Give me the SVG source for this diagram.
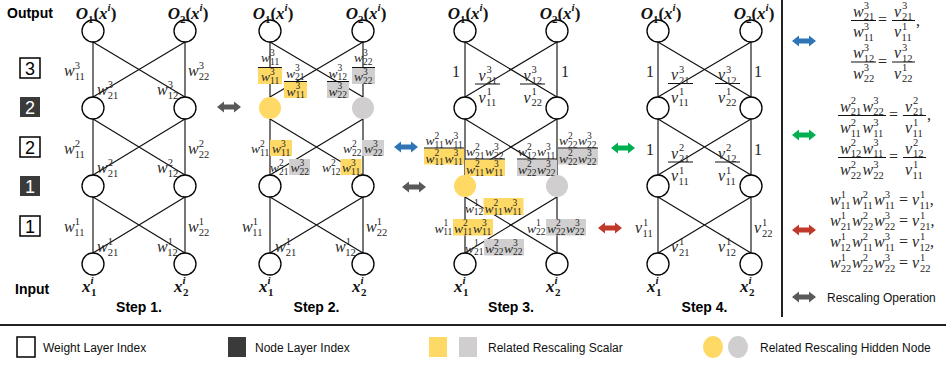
<svg xmlns="http://www.w3.org/2000/svg" width="946" height="367" viewBox="0 0 946 367">
<style>
.m{font-family:"Liberation Serif","DejaVu Serif",serif;font-style:italic;font-size:16px;fill:#262626}
.t{font-size:13.5px}
.s{font-style:normal;font-size:10.5px}
.t .s{font-size:9.5px}
.one{font-family:"Liberation Serif","DejaVu Serif",serif;font-size:16px;fill:#262626}
.o{font-family:"Liberation Serif","DejaVu Serif",serif;font-weight:bold;font-style:italic;font-size:17px;fill:#111}
.os{font-size:11px}
.u{font-style:normal}
.lbl{font-family:"Liberation Sans",Arial,sans-serif;font-weight:bold;font-size:14px;fill:#000}
.leg{font-family:"Liberation Sans",Arial,sans-serif;font-size:12px;fill:#111}
.ix{font-family:"Liberation Sans",Arial,sans-serif;font-size:18px;text-anchor:middle}
.node{fill:#fff;stroke:#000;stroke-width:1.3}
.v{stroke:#555;stroke-width:1.6;fill:none}
.c{stroke:#111;stroke-width:1.2;fill:none}
.bar{stroke:#111;stroke-width:1}
.hy{fill:#FFD966}
.hg{fill:#D0CECE}
.bw{fill:#fff;stroke:#000;stroke-width:1.5}
.bd{fill:#3a3a3a}
</style>
<defs>
<path id="dbl" d="M-12,0 L-5,-5.5 L-5,-2.5 L5,-2.5 L5,-5.5 L12,0 L5,5.5 L5,2.5 L-5,2.5 L-5,5.5 Z"/>
</defs>

<!-- side labels -->
<text class="lbl" x="7" y="18">Output</text>
<text class="lbl" x="15" y="294">Input</text>
<g id="idx-w3"><rect class="bw" x="20" y="58" width="20" height="20"/><text class="ix" x="30" y="74.5">3</text></g>
<g id="idx-n2"><rect class="bd" x="20" y="97" width="20" height="20"/><text class="ix" x="30" y="113.5" fill="#fff">2</text></g>
<g id="idx-w2"><rect class="bw" x="20" y="137" width="20" height="20"/><text class="ix" x="30" y="153.5">2</text></g>
<g id="idx-n1"><rect class="bd" x="20" y="176" width="20" height="20"/><text class="ix" x="30" y="192.5" fill="#fff">1</text></g>
<g id="idx-w1"><rect class="bw" x="20" y="216" width="20" height="20"/><text class="ix" x="30" y="232.5">1</text></g>

<!-- connectors -->
<g id="connectors">
<path class="v" d="M93,42V97M185,42V97M93,119V175M185,119V175M93,197V253M185,197V253"/>
<path class="c" d="M93,42L185,97M185,42L93,97M93,119L185,175M185,119L93,175M93,197L185,253M185,197L93,253"/>
<path class="v" d="M270,42V97M363,42V97M270,119V175M363,119V175M270,197V253M363,197V253"/>
<path class="c" d="M270,42L363,97M363,42L270,97M270,119L363,175M363,119L270,175M270,197L363,253M363,197L270,253"/>
<path class="v" d="M465,42V97M557,42V97M465,119V175M557,119V175M465,197V253M557,197V253"/>
<path class="c" d="M465,42L557,97M557,42L465,97M465,119L557,175M557,119L465,175M465,197L557,253M557,197L465,253"/>
<path class="v" d="M658,42V97M751,42V97M658,119V175M751,119V175M658,197V253M751,197V253"/>
<path class="c" d="M658,42L751,97M751,42L658,97M658,119L751,175M751,119L658,175M658,197L751,253M751,197L658,253"/>
</g>

<!-- Step 1 weights -->
<g id="s1-weights">
<text class="m" x="64" y="76">w<tspan class="s" dy="-7.5">3</tspan><tspan class="s" dx="-5.25" dy="11">11</tspan></text>
<text class="m" x="188" y="76">w<tspan class="s" dy="-7.5">3</tspan><tspan class="s" dx="-5.25" dy="11">22</tspan></text>
<text class="m" x="97" y="95">w<tspan class="s" dy="-7.5">3</tspan><tspan class="s" dx="-5.25" dy="11">21</tspan></text>
<text class="m" x="157" y="95">w<tspan class="s" dy="-7.5">3</tspan><tspan class="s" dx="-5.25" dy="11">12</tspan></text>
<text class="m" x="64" y="154">w<tspan class="s" dy="-7.5">2</tspan><tspan class="s" dx="-5.25" dy="11">11</tspan></text>
<text class="m" x="188" y="154">w<tspan class="s" dy="-7.5">2</tspan><tspan class="s" dx="-5.25" dy="11">22</tspan></text>
<text class="m" x="97" y="173">w<tspan class="s" dy="-7.5">2</tspan><tspan class="s" dx="-5.25" dy="11">21</tspan></text>
<text class="m" x="157" y="173">w<tspan class="s" dy="-7.5">2</tspan><tspan class="s" dx="-5.25" dy="11">12</tspan></text>
<text class="m" x="64" y="232">w<tspan class="s" dy="-7.5">1</tspan><tspan class="s" dx="-5.25" dy="11">11</tspan></text>
<text class="m" x="188" y="232">w<tspan class="s" dy="-7.5">1</tspan><tspan class="s" dx="-5.25" dy="11">22</tspan></text>
<text class="m" x="97" y="252">w<tspan class="s" dy="-7.5">1</tspan><tspan class="s" dx="-5.25" dy="11">21</tspan></text>
<text class="m" x="157" y="252">w<tspan class="s" dy="-7.5">1</tspan><tspan class="s" dx="-5.25" dy="11">12</tspan></text>
</g>

<!-- Step 2 weights -->
<g id="s2-weights">
<rect class="hy" x="258" y="68" width="24" height="16"/>
<line class="bar" x1="258" y1="67.5" x2="282" y2="67.5"/>
<text class="m t" x="261" y="62">w<tspan class="s" dy="-6.5">3</tspan><tspan class="s" dx="-4.75" dy="9">11</tspan></text>
<text class="m t" x="261" y="81">w<tspan class="s" dy="-6.5">3</tspan><tspan class="s" dx="-4.75" dy="9">11</tspan></text>
<rect class="hy" x="284" y="82" width="23" height="16"/>
<line class="bar" x1="284" y1="81.5" x2="307" y2="81.5"/>
<text class="m t" x="286" y="77.5">w<tspan class="s" dy="-6.5">3</tspan><tspan class="s" dx="-4.75" dy="9">21</tspan></text>
<text class="m t" x="286.5" y="95.5">w<tspan class="s" dy="-6.5">3</tspan><tspan class="s" dx="-4.75" dy="9">11</tspan></text>
<rect class="hg" x="327" y="82" width="22" height="16"/>
<line class="bar" x1="327" y1="81.5" x2="349" y2="81.5"/>
<text class="m t" x="328.5" y="77.5">w<tspan class="s" dy="-6.5">3</tspan><tspan class="s" dx="-4.75" dy="9">12</tspan></text>
<text class="m t" x="328.5" y="95.5">w<tspan class="s" dy="-6.5">3</tspan><tspan class="s" dx="-4.75" dy="9">22</tspan></text>
<rect class="hg" x="352" y="68" width="23" height="16"/>
<line class="bar" x1="352" y1="67.5" x2="375" y2="67.5"/>
<text class="m t" x="354" y="62">w<tspan class="s" dy="-6.5">3</tspan><tspan class="s" dx="-4.75" dy="9">22</tspan></text>
<text class="m t" x="354" y="81">w<tspan class="s" dy="-6.5">3</tspan><tspan class="s" dx="-4.75" dy="9">22</tspan></text>

<text class="m t" x="251" y="153">w<tspan class="s" dy="-6.5">2</tspan><tspan class="s" dx="-4.75" dy="9">11</tspan></text>
<rect class="hy" x="270" y="140" width="22" height="16"/>
<text class="m t" x="272" y="153">w<tspan class="s" dy="-6.5">3</tspan><tspan class="s" dx="-4.75" dy="9">11</tspan></text>
<text class="m t" x="343" y="153">w<tspan class="s" dy="-6.5">2</tspan><tspan class="s" dx="-4.75" dy="9">22</tspan></text>
<rect class="hg" x="362" y="140" width="22" height="16"/>
<text class="m t" x="364" y="153">w<tspan class="s" dy="-6.5">3</tspan><tspan class="s" dx="-4.75" dy="9">22</tspan></text>
<text class="m t" x="270" y="172">w<tspan class="s" dy="-6.5">2</tspan><tspan class="s" dx="-4.75" dy="9">21</tspan></text>
<rect class="hg" x="289" y="159" width="21" height="16"/>
<text class="m t" x="290.5" y="172">w<tspan class="s" dy="-6.5">3</tspan><tspan class="s" dx="-4.75" dy="9">22</tspan></text>
<text class="m t" x="322" y="172">w<tspan class="s" dy="-6.5">2</tspan><tspan class="s" dx="-4.75" dy="9">12</tspan></text>
<rect class="hy" x="340.5" y="159" width="21" height="16"/>
<text class="m t" x="342" y="172">w<tspan class="s" dy="-6.5">3</tspan><tspan class="s" dx="-4.75" dy="9">11</tspan></text>

<text class="m" x="242" y="232">w<tspan class="s" dy="-7.5">1</tspan><tspan class="s" dx="-5.25" dy="11">11</tspan></text>
<text class="m" x="366" y="232">w<tspan class="s" dy="-7.5">1</tspan><tspan class="s" dx="-5.25" dy="11">22</tspan></text>
<text class="m" x="275" y="252">w<tspan class="s" dy="-7.5">1</tspan><tspan class="s" dx="-5.25" dy="11">21</tspan></text>
<text class="m" x="335" y="252">w<tspan class="s" dy="-7.5">1</tspan><tspan class="s" dx="-5.25" dy="11">12</tspan></text>
</g>

<!-- Step 3 weights -->
<g id="s3-weights">
<text class="one" x="452" y="77">1</text>
<text class="one" x="561" y="77">1</text>
<line class="bar" x1="475" y1="84" x2="500" y2="84"/>
<text class="m" x="478.5" y="80.5">v<tspan class="s" dx="0.8" dy="-7.5">3</tspan><tspan class="s" dx="-5.25" dy="11">21</tspan></text>
<text class="m" x="478.5" y="102.5">v<tspan class="s" dx="0.8" dy="-7.5">1</tspan><tspan class="s" dx="-5.25" dy="11">11</tspan></text>
<line class="bar" x1="520" y1="84" x2="545" y2="84"/>
<text class="m" x="523.5" y="80.5">v<tspan class="s" dx="0.8" dy="-7.5">3</tspan><tspan class="s" dx="-5.25" dy="11">12</tspan></text>
<text class="m" x="523.5" y="102.5">v<tspan class="s" dx="0.8" dy="-7.5">1</tspan><tspan class="s" dx="-5.25" dy="11">22</tspan></text>

<rect class="hy" x="424" y="148.5" width="40" height="16"/>
<line class="bar" x1="424" y1="148" x2="464" y2="148"/>
<text class="m t" x="425.5" y="145">w<tspan class="s" dy="-6.5">2</tspan><tspan class="s" dx="-4.75" dy="9">11</tspan></text>
<text class="m t" x="444.5" y="145">w<tspan class="s" dy="-6.5">3</tspan><tspan class="s" dx="-4.75" dy="9">11</tspan></text>
<text class="m t" x="425.5" y="162.5">w<tspan class="s" dy="-6.5">2</tspan><tspan class="s" dx="-4.75" dy="9">11</tspan></text>
<text class="m t" x="444.5" y="162.5">w<tspan class="s" dy="-6.5">3</tspan><tspan class="s" dx="-4.75" dy="9">11</tspan></text>

<rect class="hy" x="465" y="159.5" width="40" height="16.5"/>
<line class="bar" x1="465" y1="159" x2="505" y2="159"/>
<text class="m t" x="466" y="156">w<tspan class="s" dy="-6.5">2</tspan><tspan class="s" dx="-4.75" dy="9">21</tspan></text>
<text class="m t" x="485" y="156">w<tspan class="s" dy="-6.5">3</tspan><tspan class="s" dx="-4.75" dy="9">22</tspan></text>
<text class="m t" x="466" y="173.5">w<tspan class="s" dy="-6.5">2</tspan><tspan class="s" dx="-4.75" dy="9">11</tspan></text>
<text class="m t" x="485" y="173.5">w<tspan class="s" dy="-6.5">3</tspan><tspan class="s" dx="-4.75" dy="9">11</tspan></text>

<rect class="hg" x="517" y="159.5" width="40" height="16.5"/>
<line class="bar" x1="517" y1="159" x2="557" y2="159"/>
<text class="m t" x="518" y="156">w<tspan class="s" dy="-6.5">2</tspan><tspan class="s" dx="-4.75" dy="9">12</tspan></text>
<text class="m t" x="537" y="156">w<tspan class="s" dy="-6.5">3</tspan><tspan class="s" dx="-4.75" dy="9">11</tspan></text>
<text class="m t" x="518" y="173.5">w<tspan class="s" dy="-6.5">2</tspan><tspan class="s" dx="-4.75" dy="9">22</tspan></text>
<text class="m t" x="537" y="173.5">w<tspan class="s" dy="-6.5">3</tspan><tspan class="s" dx="-4.75" dy="9">22</tspan></text>

<rect class="hg" x="558" y="148.5" width="40" height="16"/>
<line class="bar" x1="558" y1="148" x2="598" y2="148"/>
<text class="m t" x="559" y="145">w<tspan class="s" dy="-6.5">2</tspan><tspan class="s" dx="-4.75" dy="9">22</tspan></text>
<text class="m t" x="578" y="145">w<tspan class="s" dy="-6.5">3</tspan><tspan class="s" dx="-4.75" dy="9">22</tspan></text>
<text class="m t" x="559" y="162.5">w<tspan class="s" dy="-6.5">2</tspan><tspan class="s" dx="-4.75" dy="9">22</tspan></text>
<text class="m t" x="578" y="162.5">w<tspan class="s" dy="-6.5">3</tspan><tspan class="s" dx="-4.75" dy="9">22</tspan></text>

<text class="m t" x="465" y="212.5">w<tspan class="s" dy="-6.5">1</tspan><tspan class="s" dx="-4.75" dy="9">12</tspan></text>
<rect class="hy" x="483.5" y="198" width="40" height="17"/>
<text class="m t" x="484.5" y="212.5">w<tspan class="s" dy="-6.5">2</tspan><tspan class="s" dx="-4.75" dy="9">11</tspan></text>
<text class="m t" x="503.5" y="212.5">w<tspan class="s" dy="-6.5">3</tspan><tspan class="s" dx="-4.75" dy="9">11</tspan></text>

<text class="m t" x="434.5" y="232.5">w<tspan class="s" dy="-6.5">1</tspan><tspan class="s" dx="-4.75" dy="9">11</tspan></text>
<rect class="hy" x="453" y="219" width="40" height="16.5"/>
<text class="m t" x="454" y="232.5">w<tspan class="s" dy="-6.5">2</tspan><tspan class="s" dx="-4.75" dy="9">11</tspan></text>
<text class="m t" x="473" y="232.5">w<tspan class="s" dy="-6.5">3</tspan><tspan class="s" dx="-4.75" dy="9">11</tspan></text>

<text class="m t" x="527" y="232.5">w<tspan class="s" dy="-6.5">1</tspan><tspan class="s" dx="-4.75" dy="9">22</tspan></text>
<rect class="hg" x="546" y="219" width="40" height="16.5"/>
<text class="m t" x="547" y="232.5">w<tspan class="s" dy="-6.5">2</tspan><tspan class="s" dx="-4.75" dy="9">22</tspan></text>
<text class="m t" x="566" y="232.5">w<tspan class="s" dy="-6.5">3</tspan><tspan class="s" dx="-4.75" dy="9">22</tspan></text>

<text class="m t" x="465" y="252.5">w<tspan class="s" dy="-6.5">1</tspan><tspan class="s" dx="-4.75" dy="9">21</tspan></text>
<rect class="hg" x="484" y="239" width="40" height="16.5"/>
<text class="m t" x="485" y="252.5">w<tspan class="s" dy="-6.5">2</tspan><tspan class="s" dx="-4.75" dy="9">22</tspan></text>
<text class="m t" x="504" y="252.5">w<tspan class="s" dy="-6.5">3</tspan><tspan class="s" dx="-4.75" dy="9">22</tspan></text>
</g>

<!-- Step 4 weights -->
<g id="s4-weights">
<text class="one" x="646" y="77">1</text>
<text class="one" x="754" y="77">1</text>
<line class="bar" x1="668" y1="83.5" x2="693" y2="83.5"/>
<text class="m" x="671" y="80">v<tspan class="s" dx="0.8" dy="-7.5">3</tspan><tspan class="s" dx="-5.25" dy="11">21</tspan></text>
<text class="m" x="671" y="102.5">v<tspan class="s" dx="0.8" dy="-7.5">1</tspan><tspan class="s" dx="-5.25" dy="11">11</tspan></text>
<line class="bar" x1="715" y1="83.5" x2="740" y2="83.5"/>
<text class="m" x="718" y="80">v<tspan class="s" dx="0.8" dy="-7.5">3</tspan><tspan class="s" dx="-5.25" dy="11">12</tspan></text>
<text class="m" x="718" y="102.5">v<tspan class="s" dx="0.8" dy="-7.5">1</tspan><tspan class="s" dx="-5.25" dy="11">22</tspan></text>

<text class="one" x="646" y="155">1</text>
<text class="one" x="754" y="155">1</text>
<line class="bar" x1="668" y1="162" x2="693" y2="162"/>
<text class="m" x="671" y="158.5">v<tspan class="s" dx="0.8" dy="-7.5">2</tspan><tspan class="s" dx="-5.25" dy="11">21</tspan></text>
<text class="m" x="671" y="181">v<tspan class="s" dx="0.8" dy="-7.5">1</tspan><tspan class="s" dx="-5.25" dy="11">11</tspan></text>
<line class="bar" x1="715" y1="162" x2="740" y2="162"/>
<text class="m" x="718" y="158.5">v<tspan class="s" dx="0.8" dy="-7.5">2</tspan><tspan class="s" dx="-5.25" dy="11">12</tspan></text>
<text class="m" x="718" y="181">v<tspan class="s" dx="0.8" dy="-7.5">1</tspan><tspan class="s" dx="-5.25" dy="11">11</tspan></text>

<text class="m" x="635" y="233">v<tspan class="s" dx="0.8" dy="-7.5">1</tspan><tspan class="s" dx="-5.25" dy="11">11</tspan></text>
<text class="m" x="754" y="233">v<tspan class="s" dx="0.8" dy="-7.5">1</tspan><tspan class="s" dx="-5.25" dy="11">22</tspan></text>
<text class="m" x="671" y="252">v<tspan class="s" dx="0.8" dy="-7.5">1</tspan><tspan class="s" dx="-5.25" dy="11">21</tspan></text>
<text class="m" x="718" y="252">v<tspan class="s" dx="0.8" dy="-7.5">1</tspan><tspan class="s" dx="-5.25" dy="11">12</tspan></text>
</g>

<!-- Nodes: Step 1 -->
<g id="s1-o1"><circle class="node" cx="93" cy="31" r="11"/><text class="o" x="96" y="19" text-anchor="middle">O<tspan class="os u" dy="4">1</tspan><tspan class="u" dy="-4">(</tspan>x<tspan class="os" dy="-8">i</tspan><tspan class="u" dy="8">)</tspan></text></g>
<g id="s1-o2"><circle class="node" cx="185" cy="31" r="11"/><text class="o" x="188" y="19" text-anchor="middle">O<tspan class="os u" dy="4">2</tspan><tspan class="u" dy="-4">(</tspan>x<tspan class="os" dy="-8">i</tspan><tspan class="u" dy="8">)</tspan></text></g>
<g id="s1-h21"><circle class="node" cx="93" cy="108" r="11"/></g>
<g id="s1-h22"><circle class="node" cx="185" cy="108" r="11"/></g>
<g id="s1-h11"><circle class="node" cx="93" cy="186" r="11"/></g>
<g id="s1-h12"><circle class="node" cx="185" cy="186" r="11"/></g>
<g id="s1-x1"><circle class="node" cx="93" cy="264" r="11"/><text class="o" x="82" y="292">x<tspan class="os" dy="-8">i</tspan><tspan class="os u" x="91" dy="12">1</tspan></text></g>
<g id="s1-x2"><circle class="node" cx="185" cy="264" r="11"/><text class="o" x="174" y="292">x<tspan class="os" dy="-8">i</tspan><tspan class="os u" x="183" dy="12">2</tspan></text></g>

<!-- Nodes: Step 2 -->
<g id="s2-o1"><circle class="node" cx="270" cy="31" r="11"/><text class="o" x="273" y="19" text-anchor="middle">O<tspan class="os u" dy="4">1</tspan><tspan class="u" dy="-4">(</tspan>x<tspan class="os" dy="-8">i</tspan><tspan class="u" dy="8">)</tspan></text></g>
<g id="s2-o2"><circle class="node" cx="363" cy="31" r="11"/><text class="o" x="366" y="19" text-anchor="middle">O<tspan class="os u" dy="4">2</tspan><tspan class="u" dy="-4">(</tspan>x<tspan class="os" dy="-8">i</tspan><tspan class="u" dy="8">)</tspan></text></g>
<g id="s2-h21"><circle class="hy" cx="270" cy="108" r="11"/></g>
<g id="s2-h22"><circle class="hg" cx="363" cy="108" r="11"/></g>
<g id="s2-h11"><circle class="node" cx="270" cy="186" r="11"/></g>
<g id="s2-h12"><circle class="node" cx="363" cy="186" r="11"/></g>
<g id="s2-x1"><circle class="node" cx="270" cy="264" r="11"/><text class="o" x="259" y="292">x<tspan class="os" dy="-8">i</tspan><tspan class="os u" x="268" dy="12">1</tspan></text></g>
<g id="s2-x2"><circle class="node" cx="363" cy="264" r="11"/><text class="o" x="352" y="292">x<tspan class="os" dy="-8">i</tspan><tspan class="os u" x="361" dy="12">2</tspan></text></g>

<!-- Nodes: Step 3 -->
<g id="s3-o1"><circle class="node" cx="465" cy="31" r="11"/><text class="o" x="468" y="19" text-anchor="middle">O<tspan class="os u" dy="4">1</tspan><tspan class="u" dy="-4">(</tspan>x<tspan class="os" dy="-8">i</tspan><tspan class="u" dy="8">)</tspan></text></g>
<g id="s3-o2"><circle class="node" cx="557" cy="31" r="11"/><text class="o" x="560" y="19" text-anchor="middle">O<tspan class="os u" dy="4">2</tspan><tspan class="u" dy="-4">(</tspan>x<tspan class="os" dy="-8">i</tspan><tspan class="u" dy="8">)</tspan></text></g>
<g id="s3-h21"><circle class="node" cx="465" cy="108" r="11"/></g>
<g id="s3-h22"><circle class="node" cx="557" cy="108" r="11"/></g>
<g id="s3-h11"><circle class="hy" cx="465" cy="186" r="11"/></g>
<g id="s3-h12"><circle class="hg" cx="557" cy="186" r="11"/></g>
<g id="s3-x1"><circle class="node" cx="465" cy="264" r="11"/><text class="o" x="454" y="292">x<tspan class="os" dy="-8">i</tspan><tspan class="os u" x="463" dy="12">1</tspan></text></g>
<g id="s3-x2"><circle class="node" cx="557" cy="264" r="11"/><text class="o" x="546" y="292">x<tspan class="os" dy="-8">i</tspan><tspan class="os u" x="555" dy="12">2</tspan></text></g>

<!-- Nodes: Step 4 -->
<g id="s4-o1"><circle class="node" cx="658" cy="31" r="11"/><text class="o" x="661" y="19" text-anchor="middle">O<tspan class="os u" dy="4">1</tspan><tspan class="u" dy="-4">(</tspan>x<tspan class="os" dy="-8">i</tspan><tspan class="u" dy="8">)</tspan></text></g>
<g id="s4-o2"><circle class="node" cx="751" cy="31" r="11"/><text class="o" x="754" y="19" text-anchor="middle">O<tspan class="os u" dy="4">2</tspan><tspan class="u" dy="-4">(</tspan>x<tspan class="os" dy="-8">i</tspan><tspan class="u" dy="8">)</tspan></text></g>
<g id="s4-h21"><circle class="node" cx="658" cy="108" r="11"/></g>
<g id="s4-h22"><circle class="node" cx="751" cy="108" r="11"/></g>
<g id="s4-h11"><circle class="node" cx="658" cy="186" r="11"/></g>
<g id="s4-h12"><circle class="node" cx="751" cy="186" r="11"/></g>
<g id="s4-x1"><circle class="node" cx="658" cy="264" r="11"/><text class="o" x="647" y="292">x<tspan class="os" dy="-8">i</tspan><tspan class="os u" x="656" dy="12">1</tspan></text></g>
<g id="s4-x2"><circle class="node" cx="751" cy="264" r="11"/><text class="o" x="740" y="292">x<tspan class="os" dy="-8">i</tspan><tspan class="os u" x="749" dy="12">2</tspan></text></g>

<!-- step captions -->
<text class="lbl" x="139" y="312" text-anchor="middle">Step 1.</text>
<text class="lbl" x="316.5" y="312" text-anchor="middle">Step 2.</text>
<text class="lbl" x="511" y="312" text-anchor="middle">Step 3.</text>
<text class="lbl" x="704.5" y="312" text-anchor="middle">Step 4.</text>

<!-- arrows between steps -->
<use href="#dbl" x="229" y="107" fill="#595959"/>
<use href="#dbl" x="406" y="147" fill="#2E75B6"/>
<use href="#dbl" x="414" y="187" fill="#595959"/>
<use href="#dbl" x="623" y="148" fill="#00B050"/>
<use href="#dbl" x="610" y="228" fill="#C0392B"/>

<!-- separators -->
<line x1="782" y1="0" x2="782" y2="317" stroke="#222" stroke-width="2"/>
<line x1="0" y1="325" x2="946" y2="325" stroke="#222" stroke-width="2"/>

<!-- right panel -->
<g id="eq-blue">
<use href="#dbl" x="804" y="41" fill="#2E75B6"/>
<line class="bar" x1="851" y1="20.5" x2="876" y2="20.5"/>
<text class="m" x="853" y="16.5">w<tspan class="s" dy="-7.5">3</tspan><tspan class="s" dx="-5.25" dy="11">21</tspan></text>
<text class="m" x="853" y="37">w<tspan class="s" dy="-7.5">3</tspan><tspan class="s" dx="-5.25" dy="11">11</tspan></text>
<text class="one" x="878" y="25">=</text>
<line class="bar" x1="892" y1="20.5" x2="915" y2="20.5"/>
<text class="m" x="894" y="16.5">v<tspan class="s" dx="0.8" dy="-7.5">3</tspan><tspan class="s" dx="-5.25" dy="11">21</tspan></text>
<text class="m" x="894" y="37">v<tspan class="s" dx="0.8" dy="-7.5">1</tspan><tspan class="s" dx="-5.25" dy="11">11</tspan></text>
<text class="one" x="916" y="25.5">,</text>
<line class="bar" x1="851" y1="62" x2="876" y2="62"/>
<text class="m" x="853" y="58">w<tspan class="s" dy="-7.5">3</tspan><tspan class="s" dx="-5.25" dy="11">12</tspan></text>
<text class="m" x="853" y="78.5">w<tspan class="s" dy="-7.5">3</tspan><tspan class="s" dx="-5.25" dy="11">22</tspan></text>
<text class="one" x="878" y="66.5">=</text>
<line class="bar" x1="892" y1="62" x2="915" y2="62"/>
<text class="m" x="894" y="58">v<tspan class="s" dx="0.8" dy="-7.5">3</tspan><tspan class="s" dx="-5.25" dy="11">12</tspan></text>
<text class="m" x="894" y="78.5">v<tspan class="s" dx="0.8" dy="-7.5">1</tspan><tspan class="s" dx="-5.25" dy="11">22</tspan></text>
</g>

<g id="eq-green">
<use href="#dbl" x="804" y="135" fill="#00B050"/>
<line class="bar" x1="838" y1="115.5" x2="886" y2="115.5"/>
<text class="m" x="840" y="111.5">w<tspan class="s" dy="-7.5">2</tspan><tspan class="s" dx="-5.25" dy="11">21</tspan></text>
<text class="m" x="862.5" y="111.5">w<tspan class="s" dy="-7.5">3</tspan><tspan class="s" dx="-5.25" dy="11">22</tspan></text>
<text class="m" x="840" y="133">w<tspan class="s" dy="-7.5">2</tspan><tspan class="s" dx="-5.25" dy="11">11</tspan></text>
<text class="m" x="862.5" y="133">w<tspan class="s" dy="-7.5">3</tspan><tspan class="s" dx="-5.25" dy="11">11</tspan></text>
<text class="one" x="889" y="120">=</text>
<line class="bar" x1="903" y1="115.5" x2="926" y2="115.5"/>
<text class="m" x="905" y="111.5">v<tspan class="s" dx="0.8" dy="-7.5">2</tspan><tspan class="s" dx="-5.25" dy="11">21</tspan></text>
<text class="m" x="905" y="133">v<tspan class="s" dx="0.8" dy="-7.5">1</tspan><tspan class="s" dx="-5.25" dy="11">11</tspan></text>
<text class="one" x="927" y="120">,</text>
<line class="bar" x1="838" y1="157.5" x2="886" y2="157.5"/>
<text class="m" x="840" y="153.5">w<tspan class="s" dy="-7.5">2</tspan><tspan class="s" dx="-5.25" dy="11">12</tspan></text>
<text class="m" x="862.5" y="153.5">w<tspan class="s" dy="-7.5">3</tspan><tspan class="s" dx="-5.25" dy="11">11</tspan></text>
<text class="m" x="840" y="175">w<tspan class="s" dy="-7.5">2</tspan><tspan class="s" dx="-5.25" dy="11">22</tspan></text>
<text class="m" x="862.5" y="175">w<tspan class="s" dy="-7.5">3</tspan><tspan class="s" dx="-5.25" dy="11">22</tspan></text>
<text class="one" x="889" y="162">=</text>
<line class="bar" x1="903" y1="157.5" x2="926" y2="157.5"/>
<text class="m" x="905" y="153.5">v<tspan class="s" dx="0.8" dy="-7.5">2</tspan><tspan class="s" dx="-5.25" dy="11">12</tspan></text>
<text class="m" x="905" y="175">v<tspan class="s" dx="0.8" dy="-7.5">1</tspan><tspan class="s" dx="-5.25" dy="11">11</tspan></text>
</g>

<g id="eq-red">
<use href="#dbl" x="804" y="230" fill="#C0392B"/>
<text class="m" x="830" y="205">w<tspan class="s" dy="-7.5">1</tspan><tspan class="s" dx="-5.25" dy="11">11</tspan></text>
<text class="m" x="852" y="205">w<tspan class="s" dy="-7.5">2</tspan><tspan class="s" dx="-5.25" dy="11">11</tspan></text>
<text class="m" x="874" y="205">w<tspan class="s" dy="-7.5">3</tspan><tspan class="s" dx="-5.25" dy="11">11</tspan></text>
<text class="one" x="899" y="205">=</text>
<text class="m" x="912" y="205">v<tspan class="s" dx="0.8" dy="-7.5">1</tspan><tspan class="s" dx="-5.25" dy="11">11</tspan><tspan class="u" dy="-3.5">,</tspan></text>
<text class="m" x="830" y="226">w<tspan class="s" dy="-7.5">1</tspan><tspan class="s" dx="-5.25" dy="11">21</tspan></text>
<text class="m" x="852" y="226">w<tspan class="s" dy="-7.5">2</tspan><tspan class="s" dx="-5.25" dy="11">22</tspan></text>
<text class="m" x="874" y="226">w<tspan class="s" dy="-7.5">3</tspan><tspan class="s" dx="-5.25" dy="11">22</tspan></text>
<text class="one" x="899" y="226">=</text>
<text class="m" x="912" y="226">v<tspan class="s" dx="0.8" dy="-7.5">1</tspan><tspan class="s" dx="-5.25" dy="11">21</tspan><tspan class="u" dy="-3.5">,</tspan></text>
<text class="m" x="830" y="247">w<tspan class="s" dy="-7.5">1</tspan><tspan class="s" dx="-5.25" dy="11">12</tspan></text>
<text class="m" x="852" y="247">w<tspan class="s" dy="-7.5">2</tspan><tspan class="s" dx="-5.25" dy="11">11</tspan></text>
<text class="m" x="874" y="247">w<tspan class="s" dy="-7.5">3</tspan><tspan class="s" dx="-5.25" dy="11">11</tspan></text>
<text class="one" x="899" y="247">=</text>
<text class="m" x="912" y="247">v<tspan class="s" dx="0.8" dy="-7.5">1</tspan><tspan class="s" dx="-5.25" dy="11">12</tspan><tspan class="u" dy="-3.5">,</tspan></text>
<text class="m" x="830" y="268">w<tspan class="s" dy="-7.5">1</tspan><tspan class="s" dx="-5.25" dy="11">22</tspan></text>
<text class="m" x="852" y="268">w<tspan class="s" dy="-7.5">2</tspan><tspan class="s" dx="-5.25" dy="11">22</tspan></text>
<text class="m" x="874" y="268">w<tspan class="s" dy="-7.5">3</tspan><tspan class="s" dx="-5.25" dy="11">22</tspan></text>
<text class="one" x="899" y="268">=</text>
<text class="m" x="912" y="268">v<tspan class="s" dx="0.8" dy="-7.5">1</tspan><tspan class="s" dx="-5.25" dy="11">22</tspan></text>
</g>

<g id="key-rescale">
<use href="#dbl" x="804" y="297" fill="#595959"/>
<text class="leg" x="827" y="302">Rescaling Operation</text>
</g>

<!-- legend -->
<g id="legend">
<rect class="bw" x="17" y="337" width="18" height="20"/>
<text class="leg" x="43" y="352">Weight Layer Index</text>
<rect class="bd" x="228" y="337" width="18" height="20"/>
<text class="leg" x="255" y="352">Node Layer Index</text>
<rect class="hy" x="429" y="337" width="18" height="20"/>
<rect class="hg" x="459" y="337" width="18" height="20"/>
<text class="leg" x="488" y="352">Related Rescaling Scalar</text>
<ellipse class="hy" cx="713" cy="347" rx="10" ry="11"/>
<ellipse class="hg" cx="738" cy="347" rx="10" ry="11"/>
<text class="leg" x="760" y="352">Related Rescaling Hidden Node</text>
</g>
</svg>
